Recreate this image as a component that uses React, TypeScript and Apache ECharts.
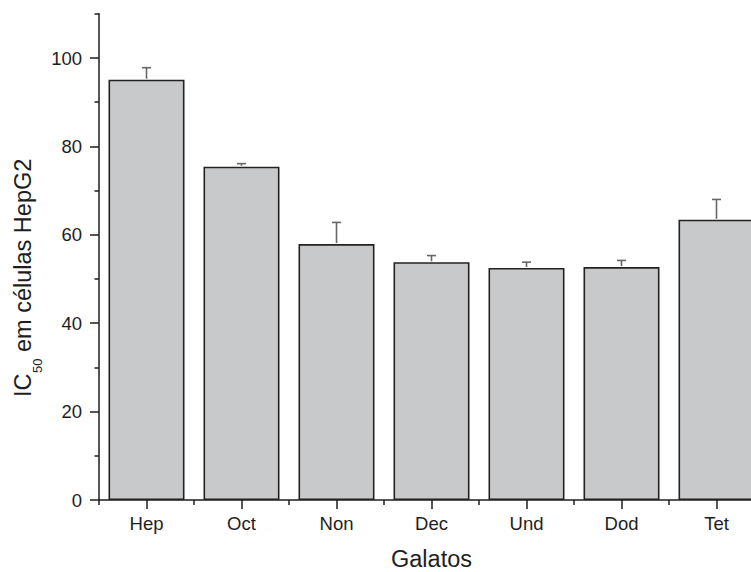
import React, { useEffect, useRef } from "react";
import * as echarts from "echarts";

const categories = ["Hep", "Oct", "Non", "Dec", "Und", "Dod", "Tet"];
const values = [95.1, 75.4, 57.9, 53.8, 52.5, 52.7, 63.4];
const errors = [2.7, 0.7, 4.9, 1.5, 1.3, 1.5, 4.6];
const yMajorTicks = [0, 20, 40, 60, 80, 100];
const yMinorTicks = [10, 30, 50, 70, 90, 110];
const xTitle = "Galatos";
const yTitleMain = "IC";
const yTitleSub = "50";
const yTitleRest = " em células HepG2";

const FONT = "'Liberation Sans', Arial, Helvetica, sans-serif";
const DARK = "#1e1e1e";

function measure(text: string, size: number): number {
  const c = document.createElement("canvas").getContext("2d");
  if (!c) return text.length * size * 0.55;
  c.font = `${size}px 'Liberation Sans', Arial, sans-serif`;
  return c.measureText(text).width;
}

export default function App() {
  const ref = useRef<HTMLDivElement>(null);
  useEffect(() => {
    document.body.style.margin = "0";
    if (!ref.current) return;
    const chart = echarts.init(ref.current, undefined, { renderer: "svg" });
    const mainSize = 23.5;
    const subSize = 13;
    const wMain = measure(yTitleMain, mainSize);
    const wSub = measure(yTitleSub, subSize);

    const grid = { left: 99, top: 13.8, width: 665, height: 486.2, outerBoundsMode: "none" };

    chart.setOption({
      animation: false,
      backgroundColor: "#ffffff",
      grid,
      xAxis: [
        {
          type: "category",
          data: categories,
          position: "bottom",
          offset: 0,
          axisLine: { show: true, lineStyle: { color: DARK, width: 1.5 } },
          axisTick: { show: true, alignWithLabel: false, length: 5, lineStyle: { color: DARK, width: 1.5 } },
          axisLabel: { show: true, fontSize: 18.5, fontFamily: FONT, color: DARK, margin: 14 },
          name: xTitle,
          nameLocation: "middle",
          nameGap: 47,
          nameTextStyle: { fontSize: 23.5, fontFamily: FONT, color: DARK },
          splitLine: { show: false },
        },
        {
          type: "category",
          data: categories,
          position: "bottom",
          offset: 0,
          axisLine: { show: false },
          axisTick: { show: true, alignWithLabel: true, length: 9, lineStyle: { color: DARK, width: 1.5 } },
          axisLabel: { show: false },
          splitLine: { show: false },
        },
      ],
      yAxis: [
        {
          type: "value",
          min: 0,
          max: 110,
          interval: 10,
          position: "left",
          offset: 0,
          axisLine: { show: true, lineStyle: { color: DARK, width: 1.5 } },
          axisTick: { show: true, length: 9, customValues: yMajorTicks, lineStyle: { color: DARK, width: 1.5 } },
          axisLabel: { show: true, customValues: yMajorTicks, fontSize: 18.5, fontFamily: FONT, color: DARK, margin: 17 },
          splitLine: { show: false },
        },
        {
          type: "value",
          min: 0,
          max: 110,
          interval: 10,
          position: "left",
          offset: 0,
          axisLine: { show: false },
          axisTick: { show: true, length: 4.5, customValues: yMinorTicks, lineStyle: { color: DARK, width: 1.5 } },
          axisLabel: { show: false },
          splitLine: { show: false },
        },
      ],
      series: [
        {
          type: "bar",
          data: values,
          xAxisIndex: 0,
          yAxisIndex: 0,
          barWidth: "80%",
          itemStyle: { color: "#c8c9cb", borderColor: "#222222", borderWidth: 1.6 },
          z: 2,
        },
        {
          type: "custom",
          xAxisIndex: 0,
          yAxisIndex: 0,
          z: 3,
          data: categories.map((_, i) => [i, values[i], values[i] + errors[i]]),
          renderItem: (params: any, api: any) => {
            const base = api.coord([api.value(0), api.value(1)]);
            const top = api.coord([api.value(0), api.value(2)]);
            const x = base[0];
            return {
              type: "group",
              children: [
                {
                  type: "line",
                  shape: { x1: x, y1: base[1] - 1, x2: x, y2: top[1] },
                  style: { stroke: "#666666", lineWidth: 1.6 },
                },
                {
                  type: "line",
                  shape: { x1: x - 4.5, y1: top[1], x2: x + 4.5, y2: top[1] },
                  style: { stroke: "#666666", lineWidth: 1.6 },
                },
              ],
            };
          },
        },
      ],
      graphic: [
        {
          type: "group",
          x: 23,
          y: 397,
          rotation: Math.PI / 2,
          children: [
            {
              type: "text",
              x: 0,
              y: 0,
              style: { text: yTitleMain, fontSize: mainSize, fontFamily: FONT, fill: DARK, align: "left", verticalAlign: "middle" },
            },
            {
              type: "text",
              x: wMain + 0.5,
              y: 14,
              style: { text: yTitleSub, fontSize: subSize, fontFamily: FONT, fill: DARK, align: "left", verticalAlign: "middle" },
            },
            {
              type: "text",
              x: wMain + wSub + 0.5,
              y: 0,
              style: { text: yTitleRest, fontSize: mainSize, fontFamily: FONT, fill: DARK, align: "left", verticalAlign: "middle" },
            },
          ],
        },
      ],
    });
    return () => chart.dispose();
  }, []);
  return (
    <div style={{ width: 751, height: 572, overflow: "hidden", position: "relative" }}>
      <div ref={ref} style={{ width: 800, height: 572 }} />
    </div>
  );
}
